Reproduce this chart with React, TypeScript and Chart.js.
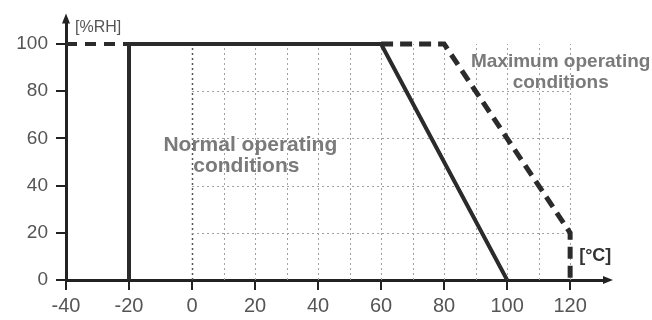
import React, { useEffect, useRef } from "react";
import { Chart, registerables } from "chart.js";

Chart.register(...registerables);

// Data (temperature in °C, relative humidity in %RH)
const normalTemps = [-20, -20, 60, 100];
const normalRH = [0, 100, 100, 0];
const maxTemps = [60, 80, 120, 120];
const maxRH = [100, 100, 20, 0];
const lowTemps = [-40, -20];
const lowRH = [100, 100];

const xTickValues = [-40, -20, 0, 20, 40, 60, 80, 100, 120];
const yTickValues = [0, 20, 40, 60, 80, 100];
const gridXValues = [0, 10, 20, 30, 40, 50, 60, 70, 80, 90, 100, 110, 120];
const gridYValues = [20, 40, 60, 80];

const yLabel = "[%RH]";
const xLabel = "[°C]";
const normalText = ["Normal operating", "conditions"];
const maxText = ["Maximum operating", "conditions"];

const toPoints = (xs: number[], ys: number[]) => xs.map((x, i) => ({ x, y: ys[i] }));

const FONT = "'Liberation Sans', Arial, sans-serif";

const decorPlugin = {
  id: "decor",
  beforeDatasetsDraw(chart: any) {
    const { ctx, scales } = chart;
    const xs = scales.x;
    const ys = scales.y;
    ctx.save();
    ctx.setLineDash([2, 3]);
    const y0 = ys.getPixelForValue(0);
    const y100 = ys.getPixelForValue(100);
    const x0 = xs.getPixelForValue(0);
    const x120 = xs.getPixelForValue(120);
    gridXValues.forEach((v) => {
      const px = Math.round(xs.getPixelForValue(v)) + 0.5;
      ctx.strokeStyle = v === 0 ? "#555" : "#a0a0a0";
      ctx.lineWidth = v === 0 ? 1.5 : 1;
      ctx.beginPath();
      ctx.moveTo(px, y0);
      ctx.lineTo(px, y100);
      ctx.stroke();
    });
    ctx.strokeStyle = "#a0a0a0";
    ctx.lineWidth = 1;
    gridYValues.forEach((v) => {
      const py = Math.round(ys.getPixelForValue(v)) + 0.5;
      ctx.beginPath();
      ctx.moveTo(x0, py);
      ctx.lineTo(x120, py);
      ctx.stroke();
    });
    ctx.restore();
  },
  afterDraw(chart: any) {
    const { ctx, scales, chartArea } = chart;
    const xs = scales.x;
    const ys = scales.y;
    ctx.save();
    // arrows
    ctx.fillStyle = "#222";
    const ax = chartArea.left;
    const top = chartArea.top;
    ctx.beginPath();
    ctx.moveTo(ax, top - 6);
    ctx.lineTo(ax - 4, top + 4);
    ctx.lineTo(ax + 4, top + 4);
    ctx.closePath();
    ctx.fill();
    const ay = chartArea.bottom;
    const right = chartArea.right;
    ctx.beginPath();
    ctx.moveTo(right + 6, ay);
    ctx.lineTo(right - 4, ay - 4);
    ctx.lineTo(right - 4, ay + 4);
    ctx.closePath();
    ctx.fill();

    // axis unit labels
    ctx.fillStyle = "#555";
    ctx.font = `16px ${FONT}`;
    ctx.textAlign = "left";
    ctx.textBaseline = "alphabetic";
    ctx.fillText(yLabel, ax + 9, top + 13);
    ctx.fillStyle = "#333";
    ctx.font = `bold 18px ${FONT}`;
    ctx.fillText(xLabel, xs.getPixelForValue(120) + 9, ys.getPixelForValue(8));

    // region annotations
    ctx.fillStyle = "#7a7a7a";
    ctx.font = `bold 21px ${FONT}`;
    ctx.textAlign = "center";
    ctx.textBaseline = "middle";
    const nx = xs.getPixelForValue(18.5);
    ctx.fillText(normalText[0], nx, ys.getPixelForValue(57));
    ctx.fillText(normalText[1], nx - 4, ys.getPixelForValue(48));
    const mx = xs.getPixelForValue(117);
    ctx.font = `bold 19px ${FONT}`;
    ctx.fillText(maxText[0], mx, ys.getPixelForValue(92.5));
    ctx.fillText(maxText[1], mx, ys.getPixelForValue(83.5));
    ctx.restore();
  },
};

export default function App() {
  const ref = useRef<HTMLCanvasElement | null>(null);
  useEffect(() => {
    if (!ref.current) return;
    const lineColor = "#2b2b2b";
    const chart = new Chart(ref.current, {
      type: "scatter",
      data: {
        datasets: [
          {
            data: toPoints(lowTemps, lowRH),
            showLine: true,
            borderColor: lineColor,
            borderWidth: 4,
            borderDash: [11, 8],
            pointRadius: 0,
          },
          {
            data: toPoints(maxTemps, maxRH),
            showLine: true,
            borderColor: lineColor,
            borderWidth: 5,
            borderDash: [12, 7],
            pointRadius: 0,
          },
          {
            data: toPoints(normalTemps, normalRH),
            showLine: true,
            borderColor: lineColor,
            borderWidth: 4,
            pointRadius: 0,
          },
        ],
      },
      options: {
        responsive: false,
        animation: false,
        events: [],
        layout: { padding: { top: 15, right: 45, left: 0, bottom: 0 } },
        plugins: { legend: { display: false }, tooltip: { enabled: false } },
        scales: {
          x: {
            type: "linear",
            min: -40,
            max: 131.7,
            afterBuildTicks: (s: any) => {
              s.ticks = xTickValues.map((v) => ({ value: v }));
            },
            afterFit: (s: any) => {
              s.height = 40;
            },
            grid: {
              display: true,
              drawOnChartArea: false,
              drawTicks: true,
              tickLength: 10,
              color: "#222",
              lineWidth: 2,
            },
            border: { display: true, color: "#222", width: 3 },
            ticks: {
              color: "#555",
              font: { family: FONT, size: 20 },
              padding: 4,
              maxRotation: 0,
              autoSkip: false,
            },
          },
          y: {
            type: "linear",
            min: 0,
            max: 110.4,
            afterBuildTicks: (s: any) => {
              s.ticks = yTickValues.map((v) => ({ value: v }));
            },
            afterFit: (s: any) => {
              s.width = 66;
            },
            grid: {
              display: true,
              drawOnChartArea: false,
              drawTicks: true,
              tickLength: 10,
              color: "#222",
              lineWidth: 2,
            },
            border: { display: true, color: "#222", width: 3 },
            ticks: {
              color: "#555",
              font: { family: FONT, size: 19 },
              padding: 8,
              autoSkip: false,
            },
          },
        },
      },
      plugins: [decorPlugin],
    });
    return () => chart.destroy();
  }, []);
  return (
    <div style={{ position: "absolute", left: 0, top: 0, width: 652, height: 320, background: "#fff" }}>
      <canvas ref={ref} width={652} height={320} />
    </div>
  );
}
